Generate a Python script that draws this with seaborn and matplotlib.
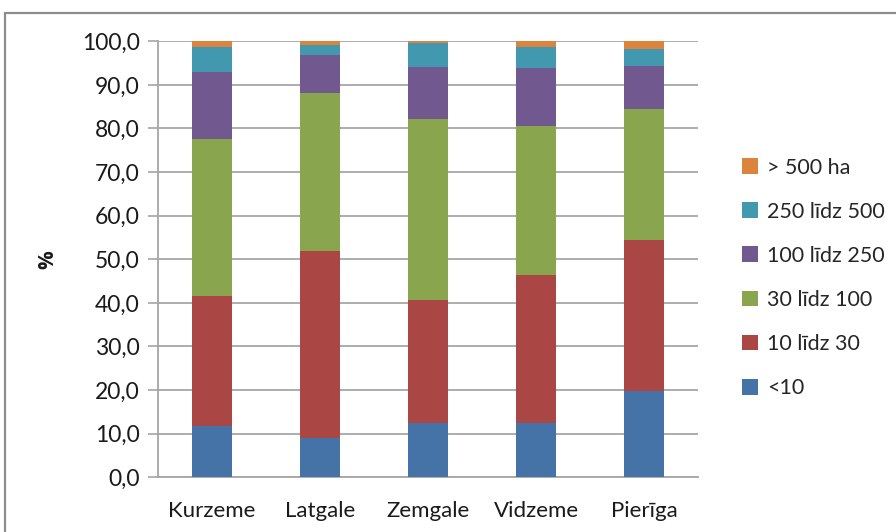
import matplotlib
matplotlib.use("Agg")
import matplotlib.pyplot as plt
from matplotlib.patches import Rectangle, Patch
import numpy as np
import pandas as pd
import seaborn as sns

# Farm size structure by region, share of farms (%)
regions = ["Kurzeme", "Latgale", "Zemgale", "Vidzeme", "Pierīga"]
size_groups = ["<10", "10 līdz 30", "30 līdz 100", "100 līdz 250", "250 līdz 500", "> 500 ha"]
lt10 = [11.8, 9.0, 12.4, 12.4, 19.8]
s10_30 = [29.8, 43.0, 28.3, 34.0, 34.6]
s30_100 = [36.0, 36.1, 41.5, 34.2, 30.1]
s100_250 = [15.3, 8.8, 12.0, 13.3, 9.9]
s250_500 = [5.9, 2.3, 5.3, 4.9, 3.8]
gt500 = [1.2, 0.8, 0.5, 1.2, 1.8]
series = [lt10, s10_30, s30_100, s100_250, s250_500, gt500]
colors = ["#4572A7", "#AA4643", "#89A54E", "#71588F", "#4198AF", "#DB843D"]
y_ticks = np.arange(0, 101, 10)

sns.set_theme(style="white")
plt.rcParams["font.family"] = ["Lato", "DejaVu Sans"]

fig = plt.figure(figsize=(8.96, 5.32), dpi=100)
ax = fig.add_axes([158 / 896, 1 - 477.3 / 532, 540 / 896, 436 / 532])

# Chart border
fig.patches.append(Rectangle((5 / 896, -0.1), 1.2, 1 - 13 / 532 + 0.1,
                             transform=fig.transFigure, fill=False,
                             edgecolor="#8c8c8c", linewidth=1.6, zorder=0))

df = pd.DataFrame({g: v for g, v in zip(size_groups, series)}, index=regions)
bottom = np.zeros(len(regions))
for g, c in zip(size_groups, colors):
    long = pd.DataFrame({"region": regions, "value": df[g].values})
    sns.barplot(data=long, x="region", y="value", color=c, bottom=bottom,
                width=0.375, ax=ax, saturation=1, linewidth=0, zorder=3)
    bottom = bottom + df[g].values

ax.set_xlim(-0.5, len(regions) - 0.5)
ax.set_ylim(0, 100)
ax.set_yticks(y_ticks)
ax.set_yticklabels([f"{t:.1f}".replace(".", ",") for t in y_ticks], fontsize=16.5,
                   color="#1a1a1a")
ax.yaxis.grid(True, color="#a6a6a6", linewidth=1.3, zorder=0)
ax.set_axisbelow(True)

ax.set_xticks(range(len(regions)))
ax.set_xticklabels(regions, fontsize=16, color="#1a1a1a")
ax.set_xticks(np.arange(-0.5, len(regions), 1), minor=True)
ax.tick_params(axis="x", which="major", length=0, pad=17)
ax.tick_params(axis="x", which="minor", length=6, width=1.2, color="#a6a6a6", direction="out")
ax.tick_params(axis="y", which="major", length=7, width=1.2, color="#a6a6a6",
               direction="out", pad=6, left=True)

for s in ["top", "right"]:
    ax.spines[s].set_visible(False)
for s in ["left", "bottom"]:
    ax.spines[s].set_color("#a6a6a6")
    ax.spines[s].set_linewidth(1.3)

ax.set_xlabel("")
ax.set_ylabel("%", fontsize=15, fontweight="bold", rotation=90,
              family=["Open Sans", "DejaVu Sans"], color="#1a1a1a")
ax.yaxis.set_label_coords(-(158 - 58) / 540, 0.5)

handles = [Patch(facecolor=c, edgecolor="none") for c in colors][::-1]
labels = size_groups[::-1]
fig.legend(handles, labels, loc="upper left", bbox_to_anchor=(733 / 896, 1 - 149 / 532),
           frameon=False, fontsize=15.5, handlelength=0.75, handleheight=0.75,
           handletextpad=0.45, labelspacing=1.12, borderaxespad=0)

fig.savefig("out.png", dpi=100)
